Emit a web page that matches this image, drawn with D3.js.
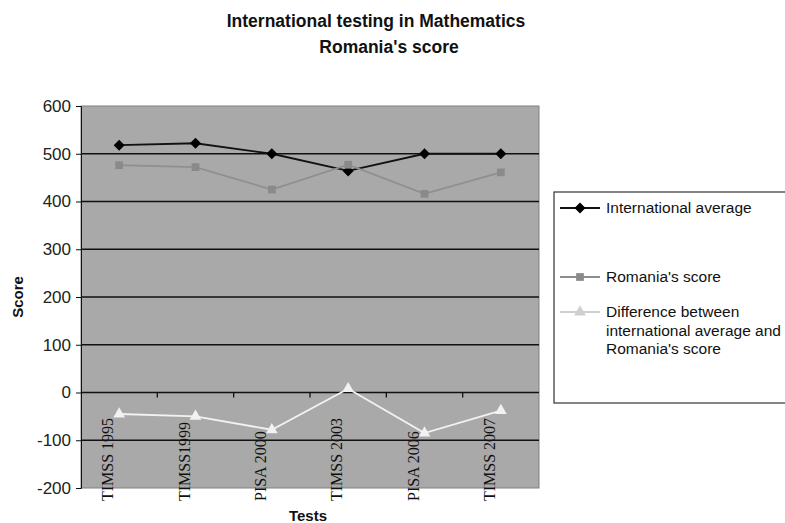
<!DOCTYPE html>
<html>
<head>
<meta charset="utf-8">
<script src="https://cdn.jsdelivr.net/npm/d3@7"></script>
<style>
  body { margin: 0; background: #fff; }
  text { font-family: Arial, "Liberation Sans", sans-serif; }
</style>
</head>
<body>
<div id="chart"></div>
<script>
const tests = ['TIMSS 1995', 'TIMSS1999', 'PISA 2000', 'TIMSS 2003', 'PISA 2006', 'TIMSS 2007']
const intlAverage = [518, 522, 500, 464, 500, 500]
const romaniaScore = [476, 472, 425, 477, 416, 461]
const difference = [-45, -50, -78, 8, -85, -38]
const yTicks = [-200, -100, 0, 100, 200, 300, 400, 500, 600]
const seriesNames = ['International average', "Romania's score", 'Difference between|international average and|Romania\'s score']

const width = 785, height = 523
const plot = { left: 81, right: 539, top: 106, bottom: 488 }

const svg = d3.select('#chart').append('svg').attr('width', width).attr('height', height)

const x = d3.scalePoint().domain(tests).range([plot.left, plot.right]).padding(0.5)
const xBand = d3.scaleBand().domain(tests).range([plot.left, plot.right])
const y = d3.scaleLinear().domain([-200, 600]).range([plot.bottom, plot.top])

// plot background
svg.append('rect')
  .attr('x', plot.left).attr('y', plot.top)
  .attr('width', plot.right - plot.left).attr('height', plot.bottom - plot.top)
  .attr('fill', '#a9a9a9').attr('stroke', '#808080').attr('stroke-width', 1)

// gridlines
svg.append('g').selectAll('line').data(yTicks.filter(d => d > -200 && d < 600)).join('line')
  .attr('x1', plot.left).attr('x2', plot.right)
  .attr('y1', d => y(d)).attr('y2', d => y(d))
  .attr('stroke', '#111').attr('stroke-width', 1.3)

// y axis
const yAxis = svg.append('g').attr('transform', `translate(${plot.left},0)`)
  .call(d3.axisLeft(y).tickValues(yTicks).tickSize(5).tickPadding(5).tickFormat(d => String(d)))
yAxis.select('.domain').attr('stroke', '#111')
yAxis.selectAll('.tick line').attr('stroke', '#111')
yAxis.selectAll('text').style('font-size', '17px').attr('fill', '#222')
  .style('font-family', 'Arial, "Liberation Sans", sans-serif')

// category axis crossing at 0
const xg = svg.append('g')
xg.selectAll('line.tk').data(tests.slice(1)).join('line').attr('class', 'tk')
  .attr('x1', d => xBand(d)).attr('x2', d => xBand(d))
  .attr('y1', y(0)).attr('y2', y(0) + 5)
  .attr('stroke', '#111').attr('stroke-width', 1.3)
xg.selectAll('text').data(tests).join('text')
  .attr('transform', d => `translate(${x(d) - 6},501) rotate(-90)`)
  .attr('text-anchor', 'start')
  .style('font-family', '"Liberation Serif", "Times New Roman", serif')
  .style('font-size', '16px').attr('fill', '#111')
  .text(d => d)

// series
const series = [
  { name: seriesNames[0], values: intlAverage, color: '#000', line: '#111', shape: d3.symbolSquare, size: 60, rot: 45 },
  { name: seriesNames[1], values: romaniaScore, color: '#8a8a8a', line: '#8f8f8f', shape: d3.symbolSquare, size: 60, rot: 0 },
  { name: seriesNames[2], values: difference, color: '#f2f2f2', line: '#f2f2f2', shape: d3.symbolTriangle, size: 60, rot: 0 }
]

const line = d3.line().x((d, i) => x(tests[i])).y(d => y(d))

series.forEach(s => {
  svg.append('path').datum(s.values)
    .attr('d', line).attr('fill', 'none')
    .attr('stroke', s.line).attr('stroke-width', 1.8)
  svg.append('g').selectAll('path').data(s.values).join('path')
    .attr('transform', (d, i) => `translate(${x(tests[i])},${y(d)}) rotate(${s.rot})`)
    .attr('d', d3.symbol().type(s.shape).size(s.size))
    .attr('fill', s.color)
})

// titles
svg.append('text').attr('x', 376).attr('y', 27).attr('text-anchor', 'middle')
  .style('font-size', '17.5px').style('font-weight', 'bold').attr('fill', '#111')
  .text('International testing in Mathematics')
svg.append('text').attr('x', 389).attr('y', 53).attr('text-anchor', 'middle')
  .style('font-size', '17.5px').style('font-weight', 'bold').attr('fill', '#111')
  .text("Romania's score")
svg.append('text').attr('transform', `translate(23,${(plot.top + plot.bottom) / 2}) rotate(-90)`)
  .attr('text-anchor', 'middle')
  .style('font-size', '15px').style('font-weight', 'bold').attr('fill', '#111')
  .text('Score')
svg.append('text').attr('x', 308).attr('y', 521).attr('text-anchor', 'middle')
  .style('font-size', '15px').style('font-weight', 'bold').attr('fill', '#111')
  .text('Tests')

// legend
const lg = svg.append('g')
lg.append('rect').attr('x', 554).attr('y', 192).attr('width', 245).attr('height', 211)
  .attr('fill', '#fff').attr('stroke', '#333').attr('stroke-width', 1.2)
const legendY = [208, 277, 312]
series.forEach((s, i) => {
  const ly = legendY[i]
  lg.append('line').attr('x1', 560).attr('x2', 600).attr('y1', ly).attr('y2', ly)
    .attr('stroke', i === 2 ? '#cfcfcf' : s.line).attr('stroke-width', 1.8)
  lg.append('path').attr('transform', `translate(580,${ly}) rotate(${s.rot})`)
    .attr('d', d3.symbol().type(s.shape).size(s.size))
    .attr('fill', i === 2 ? '#cfcfcf' : s.color)
  const t = lg.append('text').attr('x', 606).attr('y', ly + 5)
    .style('font-size', '15.5px').attr('fill', '#111')
  s.name.split('|').forEach((part, j) => {
    t.append('tspan').attr('x', 606).attr('dy', j === 0 ? 0 : 18.5).text(part)
  })
})
</script>
</body>
</html>
